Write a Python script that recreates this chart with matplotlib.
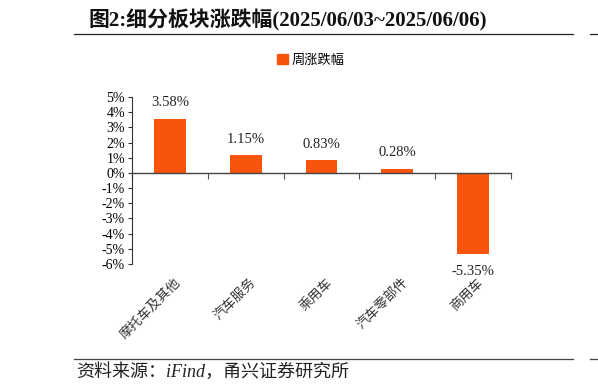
import matplotlib
matplotlib.use("Agg")
import matplotlib.pyplot as plt
from matplotlib.lines import Line2D
from matplotlib.patches import Patch
import matplotlib.transforms as mtransforms
import numpy as np

categories = ["摩托车及其他", "汽车服务", "乘用车", "汽车零部件", "商用车"]
values = [3.58, 1.15, 0.83, 0.28, -5.35]
yticks = [5, 4, 3, 2, 1, 0, -1, -2, -3, -4, -5, -6]
ytick_labels = [f"{t}%" for t in yticks]
series_name = "周涨跌幅"
title = "图2:细分板块涨跌幅(2025/06/03~2025/06/06)"
source = "资料来源：iFind，甬兴证券研究所"

bar_color = "#F9540C"
serif = ["Liberation Serif", "Noto Sans CJK SC"]
cjk = ["Noto Sans CJK SC", "DejaVu Sans"]

fig = plt.figure(figsize=(5.98, 3.92), dpi=100)
ax = fig.add_axes([132/598, 1-264/392, (511-132)/598, (264-97)/392])

x = np.arange(len(categories))
ax.bar(x, values, width=0.42, color=bar_color, zorder=2)
ax.set_xlim(-0.5, len(categories)-0.5)
ax.set_ylim(-6, 5)
ax.set_yticks(yticks)
ax.set_yticklabels(ytick_labels, fontfamily=serif, fontsize=10)
ax.tick_params(axis='y', direction='out', length=3, width=0.8, color='#333333', pad=2)

for s in ['top', 'right']:
    ax.spines[s].set_visible(False)
ax.spines['left'].set_color('#333333')
ax.spines['bottom'].set_position(('data', 0))
ax.spines['bottom'].set_color('#444444')
ax.spines['bottom'].set_linewidth(1.0)
ax.spines['bottom'].set_zorder(3)
ax.set_xticks(np.arange(len(categories)+1)-0.5)
ax.set_xticklabels([])
ax.tick_params(axis='x', direction='out', length=4, width=0.8, color='#555555')

for xi, v in zip(x, values):
    off = 7 if v >= 0 else -8
    ax.annotate(f"{v:.2f}%", (xi, v), xytext=(0, off), textcoords='offset points',
                ha='center', va='bottom' if v >= 0 else 'top',
                fontsize=10.5, fontfamily=serif, color='#222222')

trans = mtransforms.blended_transform_factory(ax.transData, ax.transAxes)
for xi, c in zip(x, categories):
    ax.text(xi + 0.05, -0.07, c, transform=trans, rotation=45, ha='right', va='top',
            rotation_mode='anchor', fontsize=9.5, fontfamily=cjk, color='#333333')

leg = fig.legend(handles=[Patch(color=bar_color, label=series_name)],
                 loc='center', bbox_to_anchor=(311/598, 1-60/392), frameon=False,
                 prop={'family': cjk, 'size': 9.5}, handlelength=0.8, handleheight=0.8,
                 handletextpad=0.3)

fig.text(88/598, 1-20/392, title, fontsize=15, fontweight='bold', fontfamily=serif,
         ha='left', va='center', color='#111111')
fig.add_artist(Line2D([74/598, 573/598], [1-34/392, 1-34/392], color='#222222', lw=0.9))
fig.add_artist(Line2D([590/598, 598/598], [1-34/392, 1-34/392], color='#222222', lw=0.9))
fig.add_artist(Line2D([74/598, 573/598], [1-359/392, 1-359/392], color='#444444', lw=0.9))
fig.add_artist(Line2D([590/598, 598/598], [1-359/392, 1-359/392], color='#444444', lw=0.9))
fig.text(76/598, 1-372/392, source, fontsize=13, fontstyle='italic', fontfamily=serif,
         ha='left', va='center', color='#222222')

fig.savefig("out.png", dpi=100)
